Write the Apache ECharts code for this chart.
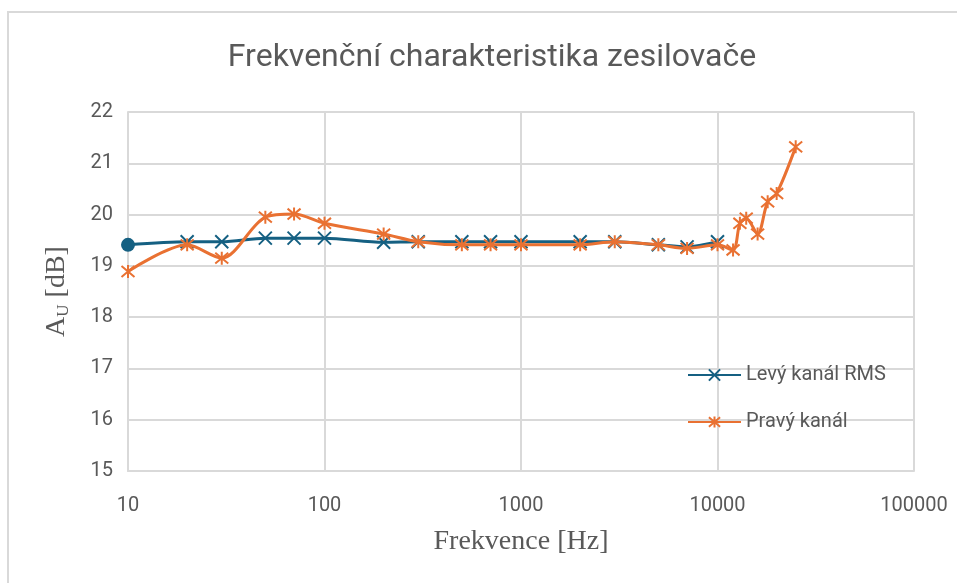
<!DOCTYPE html>
<html>
<head>
<meta charset="utf-8">
<script src="https://cdn.jsdelivr.net/npm/echarts@6/dist/echarts.min.js"></script>
<style>
  html, body { margin: 0; padding: 0; background: #fff; }
  #chart { width: 957px; height: 583px; }
</style>
</head>
<body>
<div id="chart"></div>
<script>
// frekvence [Hz]
var freqLeft = [10, 20, 30, 50, 70, 100, 200, 300, 500, 700, 1000, 2000, 3000, 5000, 7000, 10000];
var levyKanal = [19.41, 19.47, 19.47, 19.54, 19.54, 19.54, 19.46, 19.47, 19.47, 19.47, 19.47, 19.47, 19.47, 19.41, 19.37, 19.47];

var freqRight = [10, 20, 30, 50, 70, 100, 200, 300, 500, 700, 1000, 2000, 3000, 5000, 7000, 10000,
  12000, 13000, 14000, 16000, 18000, 20000, 25000];
var pravyKanal = [18.89, 19.41, 19.15, 19.95, 20.01, 19.83, 19.62, 19.47, 19.41, 19.41, 19.41, 19.41, 19.47, 19.41, 19.34, 19.41,
  19.31, 19.83, 19.93, 19.62, 20.25, 20.41, 21.32];

var xTicks = [10, 100, 1000, 10000, 100000];
var yTicks = [15, 16, 17, 18, 19, 20, 21, 22];

var blue = "#156082";
var orange = "#E97132";
var gridGray = "#d9d9d9";
var textGray = "#595959";

var xMark = "path://M0,0L10,10M10,0L0,10";
var starMark = "path://M0,0L10,10M10,0L0,10M5,-1L5,11";

var chart = echarts.init(document.getElementById("chart"));

var leftData = freqLeft.map(function (f, i) {
  var p = { value: [f, levyKanal[i]] };
  if (i === 0) {
    // první bod je v originále kolečko
    p.symbol = "circle";
    p.symbolSize = 14;
    p.itemStyle = { color: blue, borderWidth: 0 };
  }
  return p;
});
var rightData = freqRight.map(function (f, i) {
  return [f, pravyKanal[i]];
});

var option = {
  animation: false,
  graphic: [
    {
      type: "rect",
      shape: { x: 8, y: 12, width: 1200, height: 1200 },
      style: { fill: "none", stroke: gridGray, lineWidth: 2 },
      silent: true
    },
    {
      type: "text",
      x: 492,
      y: 58,
      style: {
        text: "Frekvenční charakteristika zesilovače",
        fontFamily: "Roboto",
        fontSize: 32,
        fill: textGray,
        textAlign: "center",
        textVerticalAlign: "middle"
      }
    }
  ],
  grid: {
    left: 128,
    right: 43,
    top: 112,
    bottom: 112
  },
  legend: {
    orient: "vertical",
    left: 682,
    top: 360,
    itemWidth: 53,
    itemHeight: 14,
    itemGap: 27,
    textStyle: { color: textGray, fontSize: 20, fontFamily: "Roboto" },
    data: ["Levý kanál RMS", "Pravý kanál"]
  },
  xAxis: {
    type: "log",
    logBase: 10,
    min: xTicks[0],
    max: xTicks[xTicks.length - 1],
    name: "Frekvence [Hz]",
    nameLocation: "middle",
    nameGap: 57,
    nameTextStyle: { fontFamily: "Liberation Serif", fontSize: 28, color: textGray },
    axisLine: { lineStyle: { color: gridGray, width: 2 } },
    axisTick: { show: false },
    axisLabel: {
      margin: 25,
      color: textGray,
      fontSize: 20,
      fontFamily: "Roboto",
      formatter: function (v) { return String(Math.round(v)); }
    },
    splitLine: { show: true, lineStyle: { color: gridGray, width: 2 } }
  },
  yAxis: {
    type: "value",
    min: yTicks[0],
    max: yTicks[yTicks.length - 1],
    interval: 1,
    name: "A{sub|U} [dB]",
    nameLocation: "middle",
    nameGap: 56,
    nameTextStyle: {
      fontFamily: "Liberation Serif",
      fontSize: 28,
      color: textGray,
      rich: {
        sub: { fontFamily: "Liberation Serif", fontSize: 17, color: textGray, verticalAlign: "bottom", padding: [13, 0, 0, 0] }
      }
    },
    axisLine: { show: true, lineStyle: { color: gridGray, width: 2 } },
    axisTick: { show: false },
    axisLabel: { margin: 15, color: textGray, fontSize: 20, fontFamily: "Roboto" },
    splitLine: { show: true, lineStyle: { color: gridGray, width: 2 } }
  },
  series: [
    {
      name: "Levý kanál RMS",
      type: "line",
      smooth: 0.3,
      data: leftData,
      symbol: xMark,
      symbolSize: 13,
      lineStyle: { color: blue, width: 3 },
      itemStyle: { color: blue, borderColor: blue, borderWidth: 2 },
      z: 2
    },
    {
      name: "Pravý kanál",
      type: "line",
      smooth: 0.3,
      data: rightData,
      symbol: starMark,
      symbolSize: 13,
      lineStyle: { color: orange, width: 3 },
      itemStyle: { color: orange, borderColor: orange, borderWidth: 2 },
      z: 3
    }
  ]
};

chart.setOption(option);
</script>
</body>
</html>
